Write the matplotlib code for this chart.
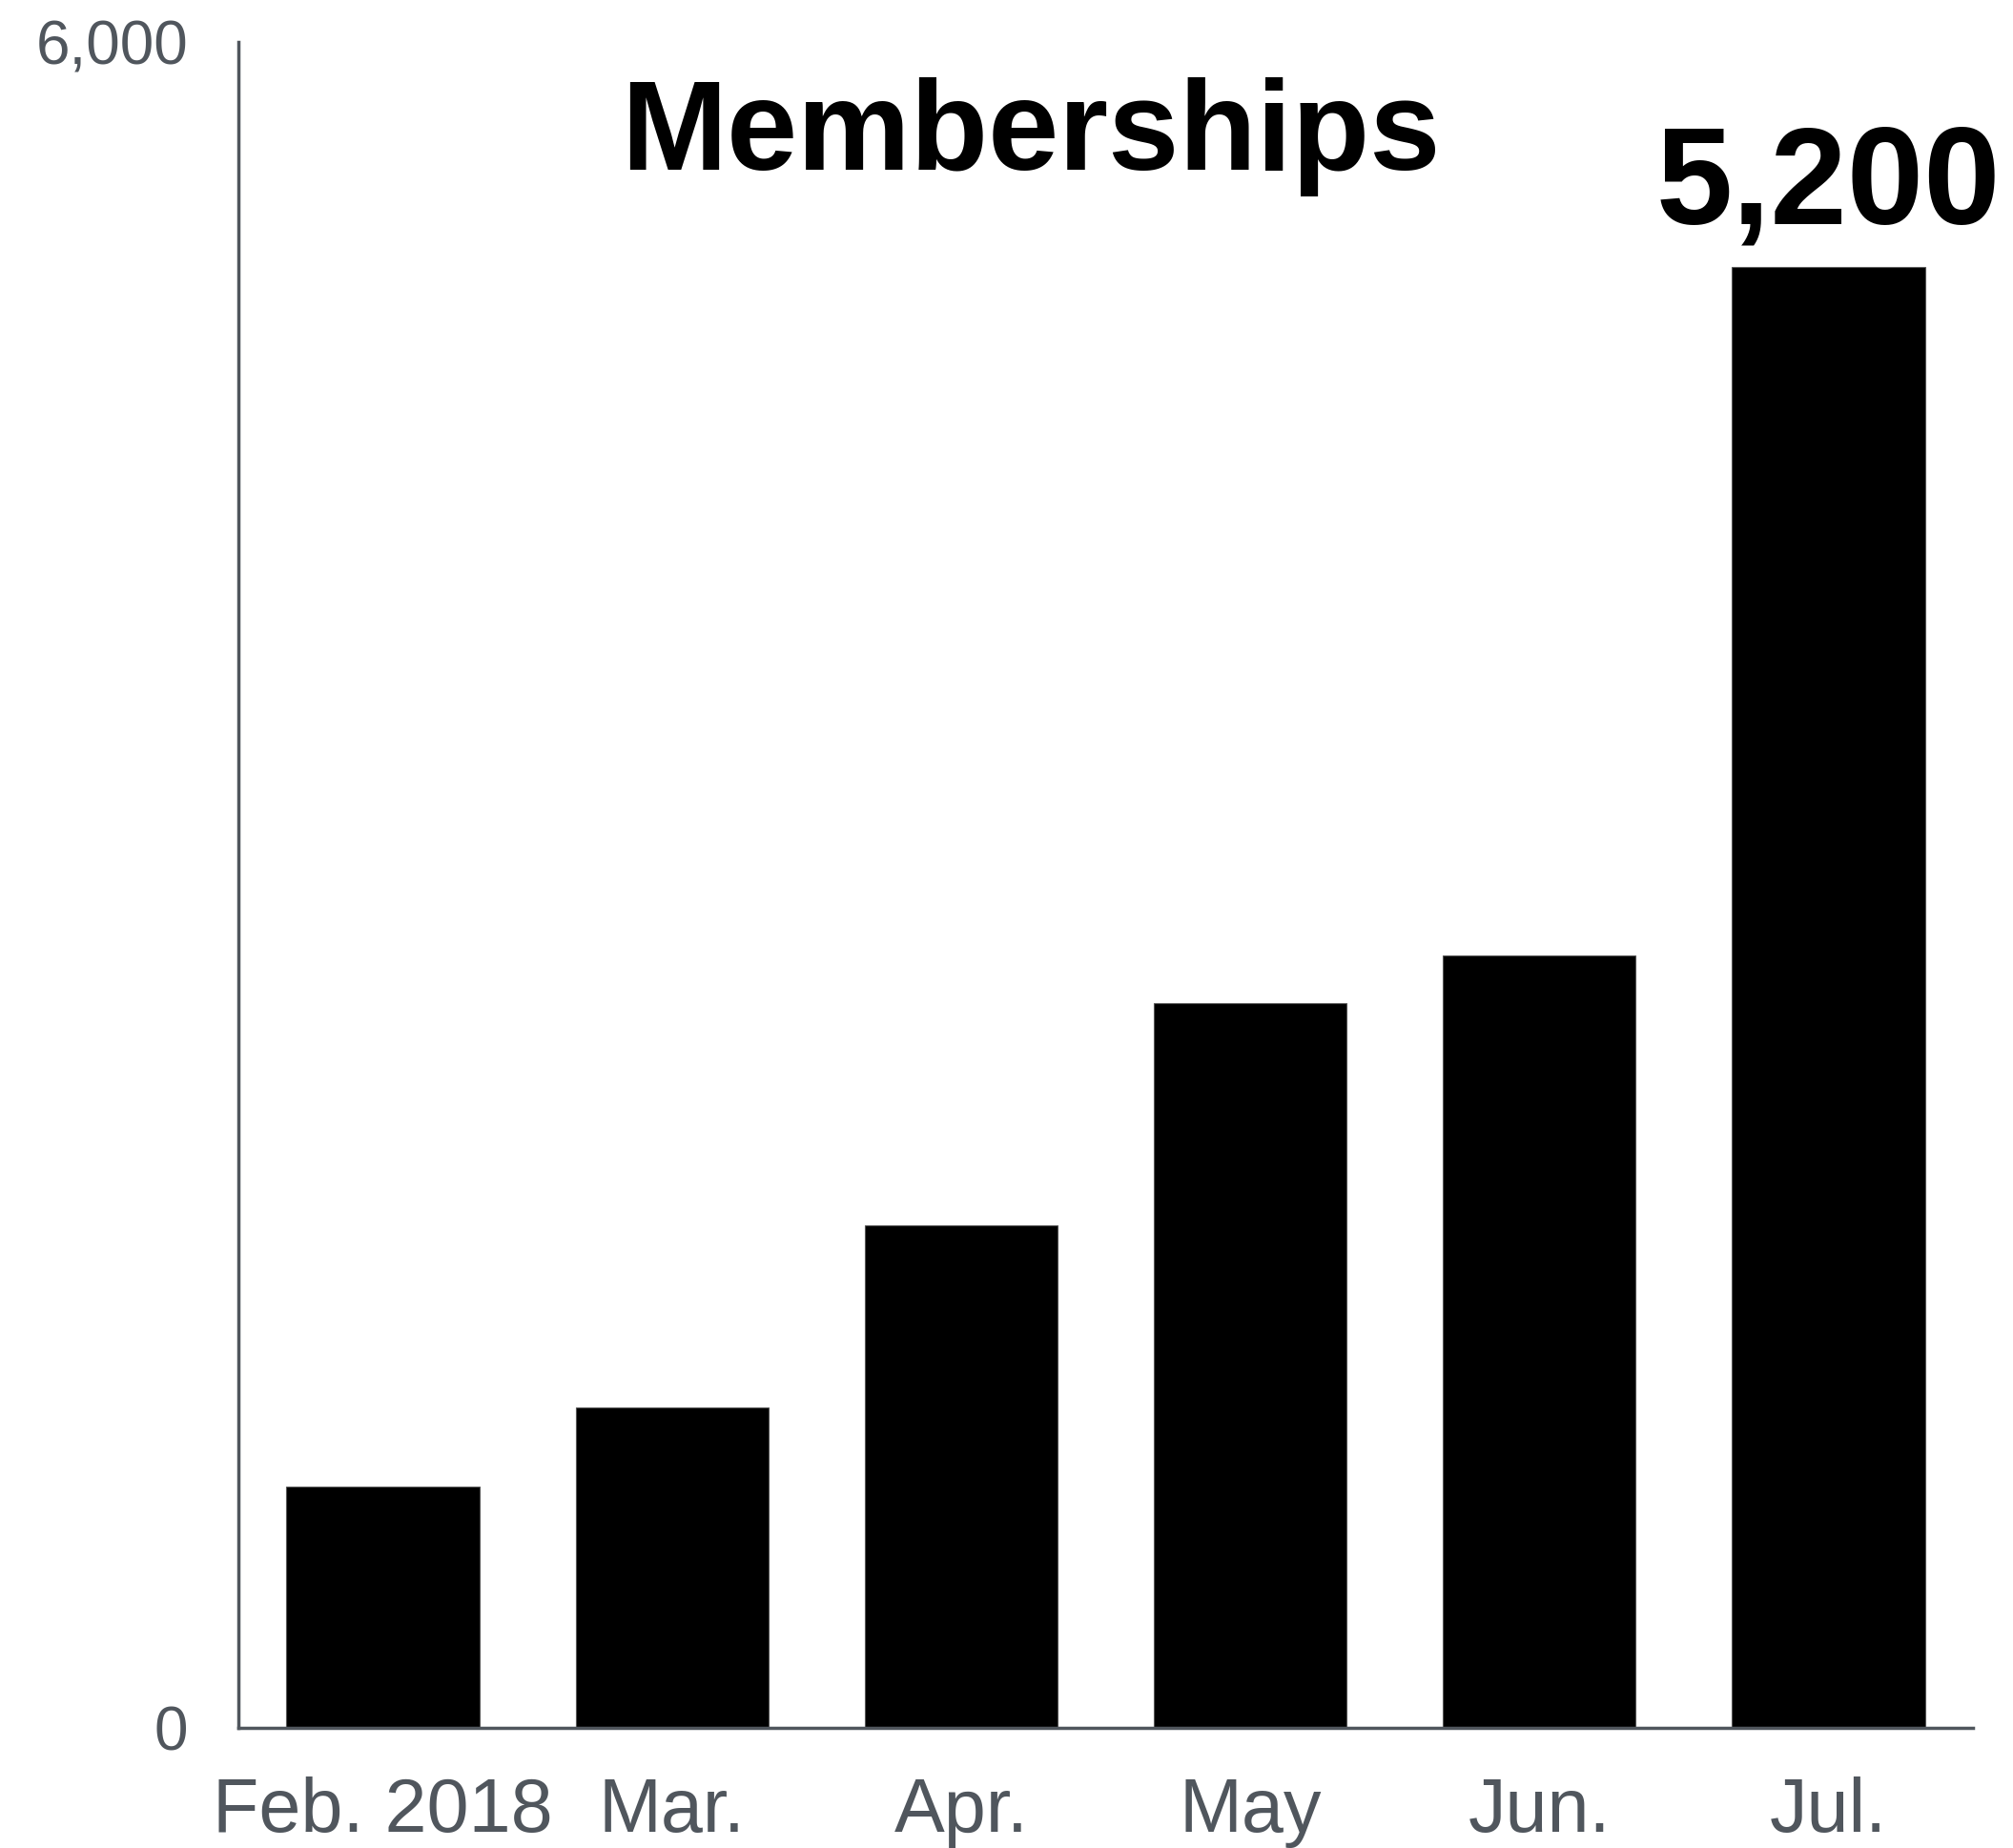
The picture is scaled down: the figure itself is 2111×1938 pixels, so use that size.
import matplotlib.pyplot as plt
from matplotlib.ticker import FuncFormatter

plt.rcParams['font.family'] = ['Liberation Sans', 'DejaVu Sans']

months = ["Feb. 2018", "Mar.", "Apr.", "May", "Jun.", "Jul."]
memberships = [860, 1140, 1790, 2580, 2750, 5200]
y_ticks = [0, 6000]

grey = "#50565d"

fig = plt.figure(figsize=(21.11, 19.38), dpi=100)
ax = fig.add_axes([0.1184, 0.065, 0.8617, 0.9123])

x = range(len(months))
ax.bar(x, memberships, width=0.667, color="black", edgecolor="#555555", linewidth=0.8)

ax.set_xlim(-0.5, len(months) - 0.5)
ax.set_ylim(0, 6000)
ax.set_xticks(list(x))
ax.set_xticklabels(months)
ax.set_yticks(y_ticks)
ax.yaxis.set_major_formatter(FuncFormatter(lambda v, p: "{:,.0f}".format(v)))

ax.tick_params(axis="x", length=0, pad=37, labelsize=57, labelcolor=grey)
ax.tick_params(axis="y", length=0, pad=38, labelsize=46, labelcolor=grey)

for side in ["top", "right"]:
    ax.spines[side].set_visible(False)
for side in ["left", "bottom"]:
    ax.spines[side].set_color(grey)
    ax.spines[side].set_linewidth(2.5)

# value label only on the last month
ax.annotate("{:,}".format(memberships[-1]), xy=(len(months) - 1, memberships[-1]),
            xytext=(0, 11), textcoords="offset points", ha="center", va="bottom",
            fontsize=104, fontweight="bold", color="black", annotation_clip=False)

fig.text(0.512, 0.908, "Memberships", ha="center", va="baseline",
         fontsize=96, fontweight="bold", color="black")

fig.savefig("out.png", dpi=100, facecolor="white")
